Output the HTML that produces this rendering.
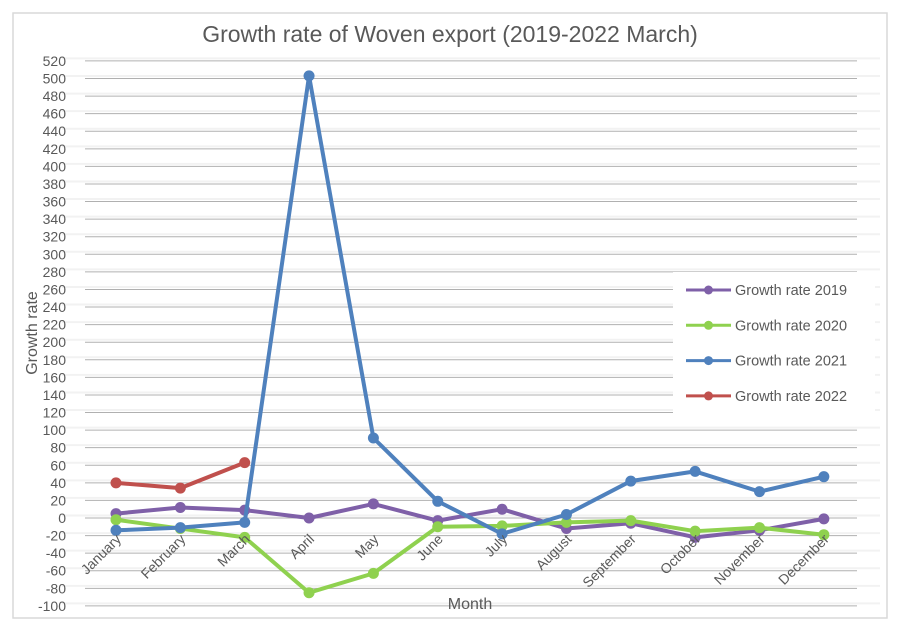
<!DOCTYPE html>
<html><head><meta charset="utf-8"><style>
body{margin:0;background:#fff;}
svg text{font-family:"Liberation Sans",sans-serif;fill:#595959;}
</style></head><body>
<svg id="chart" width="900" height="632" xmlns="http://www.w3.org/2000/svg">
<rect x="13" y="13" width="874" height="605" fill="#fff" stroke="#d9d9d9" stroke-width="1.5"/>
<text x="450" y="42" text-anchor="middle" font-size="23">Growth rate of Woven export (2019-2022 March)</text>
<g id="grid"></g><g id="yticks"></g><g id="series"></g><g id="xticks"></g>
<text transform="translate(37,333) rotate(-90)" text-anchor="middle" font-size="16">Growth rate</text>
<text x="470" y="609" text-anchor="middle" font-size="16">Month</text>
<g id="legend"></g>
</svg>
<script>
const months=["January","February","March","April","May","June","July","August","September","October","November","December"];
const seriesNames=["Growth rate 2019","Growth rate 2020","Growth rate 2021","Growth rate 2022"];
const colors=["#7f60a8","#8fd14f","#4f81bd","#c0504d"];
const v2019=[5,12,9,0,16,-3,10,-12,-6,-22,-14,-1];
const v2020=[-2,-12,-22,-85,-63,-10,-9,-5,-3,-15,-11,-19];
const v2021=[-14,-11,-5,503,91,19,-18,4,42,53,30,47];
const v2022=[40,34,63];
const yTicks=[-100,-80,-60,-40,-20,0,20,40,60,80,100,120,140,160,180,200,220,240,260,280,300,320,340,360,380,400,420,440,460,480,500,520];
const NS="http://www.w3.org/2000/svg";
const x=i=>116+i*64.35;
const y=v=>518-v*0.879;
function mk(tag,attrs,parent){const e=document.createElementNS(NS,tag);for(const k in attrs)e.setAttribute(k,attrs[k]);parent.appendChild(e);return e;}
const grid=document.getElementById('grid'),yt=document.getElementById('yticks'),xt=document.getElementById('xticks'),sg=document.getElementById('series'),lg=document.getElementById('legend');
yTicks.forEach(t=>{
 const l=mk('line',{x1:85,x2:857,y1:y(t),y2:y(t),stroke:'#b0b0b0','stroke-width':1},grid);
 
 
 const s=mk('line',{x1:62,x2:880,y1:y(t)-2.5,y2:y(t)-2.5,stroke:'#f2f2f2','stroke-width':2},grid);
 
 
 const tx=mk('text',{x:66,y:y(t)+5,'text-anchor':'end','font-size':14},yt);tx.textContent=t;
 
 
});
months.forEach((m,i)=>{
 const tx=mk('text',{transform:`translate(${x(i)+6},${540}) rotate(-45)`,'text-anchor':'end','font-size':14},xt);tx.textContent=m;
 
 
});
[v2019,v2020,v2021,v2022].forEach((vals,s)=>{
 const g=mk('g',{},sg);
 
 
 mk('polyline',{points:vals.map((v,i)=>x(i)+','+y(v)).join(' '),fill:'none',stroke:colors[s],'stroke-width':4,'stroke-linejoin':'round'},g);
 vals.forEach((v,i)=>{const c=mk('circle',{cx:x(i),cy:y(v),r:5.5,fill:colors[s]},g);
  
  });
});
mk('rect',{x:673,y:272,width:202,height:143,fill:'#fff'},lg);
seriesNames.forEach((n,s)=>{
 const yy=290+s*35.3;
 const g=mk('g',{},lg);
 
 
 mk('line',{x1:686,x2:731,y1:yy,y2:yy,stroke:colors[s],'stroke-width':3},g);
 mk('circle',{cx:708.5,cy:yy,r:4.5,fill:colors[s]},g);
 const t=mk('text',{x:735,y:yy+5,'font-size':14.5},g);t.textContent=n;
});
</script>
</body></html>
